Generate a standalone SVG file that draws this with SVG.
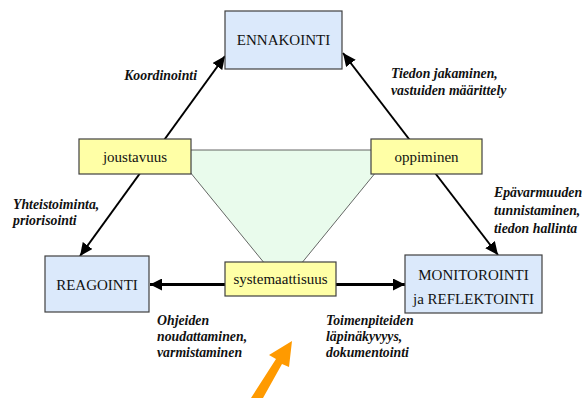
<svg xmlns="http://www.w3.org/2000/svg" width="583" height="398" viewBox="0 0 583 398">
  <style>
    .main { fill: #dbe9fb; stroke: #404040; stroke-width: 1.2; }
    .trait { fill: #ffffa6; stroke: #404040; stroke-width: 1.2; }
    .box-text { font-family: "Liberation Serif", "Times New Roman", serif; font-size: 15px; fill: #111; text-anchor: middle; }
    .note { font-family: "Liberation Serif", "Times New Roman", serif; font-size: 13.8px; font-weight: bold; font-style: italic; fill: #111; }
    .link { stroke: #000; stroke-width: 2; fill: none; }
    .link-thick { stroke: #000; stroke-width: 3; fill: none; }
  </style>
  <defs>
    <marker id="head" markerUnits="userSpaceOnUse" markerWidth="14" markerHeight="12" refX="13" refY="6" orient="auto-start-reverse">
      <path d="M0,0 L13,6 L0,12 Z" fill="#000"/>
    </marker>
    <marker id="head-wide" markerUnits="userSpaceOnUse" markerWidth="13" markerHeight="12" refX="12" refY="6" orient="auto-start-reverse">
      <path d="M0,0 L12,6 L0,12 Z" fill="#000"/>
    </marker>
  </defs>

  <!-- shared area between the three traits -->
  <polygon id="core" points="172,150 394,150 283,286" fill="#e9fbec" stroke="#404040" stroke-width="0.8"/>

  <g id="connectors">
    <line class="link" x1="80" y1="256" x2="225" y2="56" marker-start="url(#head)" marker-end="url(#head)"/>
    <line class="link" x1="343" y1="53" x2="498" y2="255" marker-start="url(#head)" marker-end="url(#head)"/>
    <line class="link-thick" x1="150" y1="284.5" x2="405" y2="284.5" marker-start="url(#head-wide)" marker-end="url(#head-wide)"/>
  </g>

  <g id="ennakointi">
    <rect class="main" x="225" y="11" width="117" height="58"/>
    <text class="box-text" x="283.5" y="45">ENNAKOINTI</text>
  </g>
  <g id="reagointi">
    <rect class="main" x="45" y="256" width="104" height="56"/>
    <text class="box-text" x="97" y="290">REAGOINTI</text>
  </g>
  <g id="monitorointi">
    <rect class="main" x="405" y="255" width="137" height="58"/>
    <text class="box-text" x="473.5" y="280">MONITOROINTI</text>
    <text class="box-text" x="473.5" y="304">ja REFLEKTOINTI</text>
  </g>

  <g id="joustavuus">
    <rect class="trait" x="79" y="139" width="112" height="35"/>
    <text class="box-text" x="135" y="162">joustavuus</text>
  </g>
  <g id="oppiminen">
    <rect class="trait" x="371" y="139" width="111" height="35"/>
    <text class="box-text" x="426.5" y="162">oppiminen</text>
  </g>
  <g id="systemaattisuus">
    <rect class="trait" x="225" y="262" width="111" height="34"/>
    <text class="box-text" x="280.5" y="284">systemaattisuus</text>
  </g>

  <g id="labels">
    <text class="note" x="197" y="80" text-anchor="end">Koordinointi</text>
    <text class="note" x="391" y="78">Tiedon jakaminen,</text>
    <text class="note" x="391" y="95">vastuiden määrittely</text>
    <text class="note" x="494" y="197">Epävarmuuden</text>
    <text class="note" x="494" y="215">tunnistaminen,</text>
    <text class="note" x="494" y="233">tiedon hallinta</text>
    <text class="note" x="13" y="209">Yhteistoiminta,</text>
    <text class="note" x="13" y="225">priorisointi</text>
    <text class="note" x="157" y="325">Ohjeiden</text>
    <text class="note" x="157" y="341">noudattaminen,</text>
    <text class="note" x="157" y="357">varmistaminen</text>
    <text class="note" x="326" y="325">Toimenpiteiden</text>
    <text class="note" x="326" y="341">läpinäkyvyys,</text>
    <text class="note" x="326" y="357">dokumentointi</text>
  </g>

  <!-- orange pointer -->
  <polygon id="pointer" points="251,398 263,398 282,364 289,367 292,341 269,355 276,359 251,398" fill="#ff9a00"/>
</svg>
